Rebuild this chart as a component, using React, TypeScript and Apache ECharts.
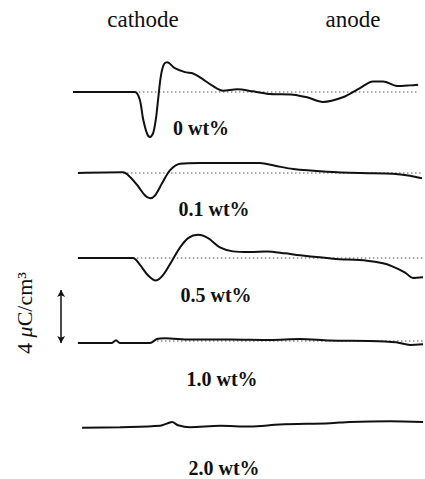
import React, { useEffect, useRef } from "react";
import * as echarts from "echarts";

// Position between electrodes (arbitrary units, 0 = cathode side, 100 = anode side)
// Charge density values in μC/cm³ (relative to each trace's baseline)
const labels = ["0 wt%", "0.1 wt%", "0.5 wt%", "1.0 wt%", "2.0 wt%"];

const x0 = [0, 17.7, 19.1, 20, 21.1, 22.0, 22.9, 23.7, 24.3, 25.1, 26, 26.9, 29.1, 32, 34.3, 36.3, 39.7, 42.9, 46.9, 51.4, 56.3, 62.9, 66.9, 71.4, 77.1, 82, 85.7, 88.6, 92.6, 96.3, 98.6];
const v0 = [0, 0, -0.6, -2.0, -3.1, -3.4, -3.1, -2.0, -0.6, 1.2, 2.1, 2.25, 1.8, 1.5, 1.4, 1.1, 0.5, 0.1, 0.2, 0.05, -0.15, -0.2, -0.4, -0.75, -0.4, 0.3, 0.8, 0.8, 0.45, 0.5, 0.55];

const x1 = [1.4, 14.3, 16.3, 18.6, 20.6, 22, 23.4, 25.4, 27.7, 30.6, 36.3, 44.9, 53.4, 57.7, 62.9, 72.6, 82, 91.4, 96.3, 99.7];
const v1 = [0, 0.05, -0.3, -1.0, -1.7, -1.9, -1.7, -0.8, 0.2, 0.7, 0.75, 0.75, 0.75, 0.55, 0.3, 0.1, 0.0, -0.05, -0.2, -0.4];

const x2 = [1.4, 17.1, 19.1, 21.4, 23.7, 25.7, 28.3, 30.6, 32.9, 35.7, 38.6, 42, 45.7, 50.6, 55.4, 60.6, 64.9, 74.3, 84, 88.6, 91.4, 94.9, 97.1, 100];
const v2 = [0, 0, -0.5, -1.3, -1.7, -1.3, -0.2, 0.8, 1.5, 1.75, 1.5, 0.8, 0.5, 0.45, 0.5, 0.35, 0.2, -0.05, -0.2, -0.4, -0.65, -1.1, -1.5, -1.45];

const x3 = [1.4, 11.1, 12.3, 13.4, 22, 24, 26.3, 33.4, 44.9, 56.3, 64.9, 73.4, 84.9, 92.3, 96.3, 100];
const v3 = [-0.15, -0.15, 0.05, -0.15, -0.15, 0.15, 0.2, 0.12, 0.12, 0.08, 0.15, 0.03, 0.0, -0.1, -0.3, -0.25];

const x4 = [2.6, 13.4, 24.9, 27.1, 28.3, 30, 33.4, 42, 50.6, 59.1, 73.4, 79.1, 90.6, 100];
const v4 = [-0.1, -0.05, 0.05, 0.25, 0.35, 0.1, -0.05, 0.05, 0.0, 0.15, 0.25, 0.35, 0.4, 0.35];

const traceX = [x0, x1, x2, x3, x4];
const traceV = [v0, v1, v2, v3, v4];
// dotted zero-reference lines [start, end]
const refStart = [17.7, 14.3, 17.1, 24, null];
const refEnd = [98.6, 100, 100, 100, null];

const scaleBar = [-0.15, 3.85]; // 4 μC/cm³

export default function App() {
  const ref = useRef<HTMLDivElement>(null);
  useEffect(() => {
    document.body.style.margin = "0";
    const chart = echarts.init(ref.current!, null, { renderer: "svg" });
    const baselines = [92, 173, 258, 341, 427];
    const grids = baselines.map((b) => ({ left: 52, right: 2, top: b - 53, height: 106 }));
    const xAxes = baselines.map((_, i) => ({ type: "value", gridIndex: i, min: -6, max: 100, show: false }));
    const yAxes = baselines.map((_, i) => ({ type: "value", gridIndex: i, min: -4, max: 4, show: false }));
    const series: any[] = [];
    traceX.forEach((xs, i) => {
      const s: any = {
        type: "line",
        xAxisIndex: i,
        yAxisIndex: i,
        data: xs.map((x, j) => [x, traceV[i][j]]),
        showSymbol: false,
        smooth: 0.3,
        lineStyle: { color: "#111", width: 2 },
        z: 3,
      };
      if (i === 3) {
        s.markLine = {
          silent: true,
          symbol: ["arrow", "arrow"],
          symbolSize: [6, 7],
          label: { show: false },
          lineStyle: { color: "#111", width: 1.5, type: "solid" },
          data: [[{ coord: [-3.4, scaleBar[0]] }, { coord: [-3.4, scaleBar[1]] }]],
        };
      }
      series.push(s);
      if (refStart[i] !== null) {
        series.push({
          type: "line",
          xAxisIndex: i,
          yAxisIndex: i,
          data: [[refStart[i], 0], [refEnd[i], 0]],
          showSymbol: false,
          lineStyle: { color: "#555", width: 1, type: [1.5, 2.5] },
          z: 2,
        });
      }
    });
    const labelPos = [[201, 128], [214, 209], [216, 295], [222, 379], [224, 468]];
    const font = "'Liberation Serif', 'Times New Roman', serif";
    const graphic: any[] = labels.map((t, i) => ({
      type: "text",
      x: labelPos[i][0],
      y: labelPos[i][1],
      style: { text: t, font: `bold 20px ${font}`, fill: "#111", textAlign: "center", textVerticalAlign: "middle" },
    }));
    graphic.push(
      { type: "text", x: 143, y: 19, style: { text: "cathode", font: `23px ${font}`, fill: "#111", textAlign: "center", textVerticalAlign: "middle" } },
      { type: "text", x: 353, y: 19, style: { text: "anode", font: `23px ${font}`, fill: "#111", textAlign: "center", textVerticalAlign: "middle" } },
      {
        type: "text",
        x: 24,
        y: 313,
        rotation: Math.PI / 2,
        style: {
          text: "4 {i|μ}C/cm³",
          font: `22px ${font}`,
          fill: "#111",
          textAlign: "center",
          textVerticalAlign: "middle",
          rich: { i: { fontStyle: "italic", fontFamily: font, fontSize: 22, fill: "#111" } },
        },
      }
    );
    chart.setOption({
      animation: false,
      backgroundColor: "#fff",
      grid: grids,
      xAxis: xAxes,
      yAxis: yAxes,
      series,
      graphic,
    });
    return () => chart.dispose();
  }, []);
  return <div ref={ref} style={{ width: 425, height: 479 }} />;
}
